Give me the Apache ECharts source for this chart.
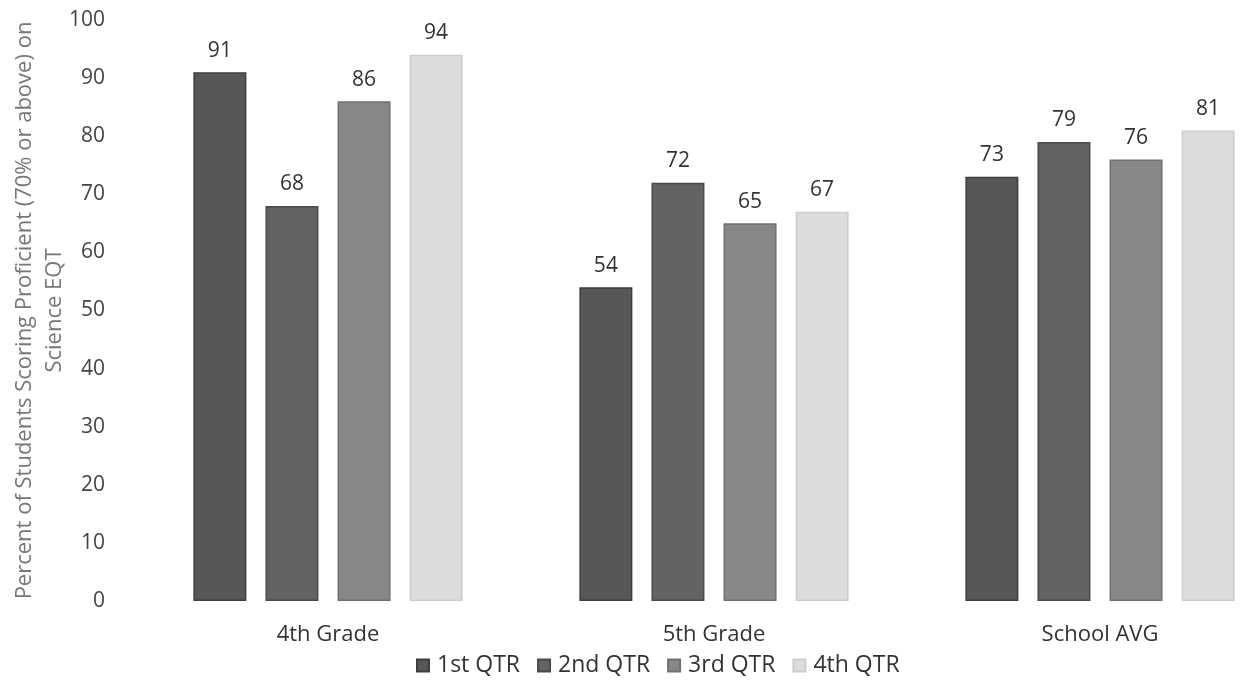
<!DOCTYPE html>
<html><head><meta charset="utf-8">
<script src="https://cdn.jsdelivr.net/npm/echarts@6/dist/echarts.min.js"></script>
<style>html,body{margin:0;padding:0;background:#fff;overflow:hidden;width:1241px;height:694px}#c{width:1300px;height:694px}</style>
</head><body><div id="c"></div>
<script>
const categories = ['4th Grade', '5th Grade', 'School AVG'];
const seriesNames = ['1st QTR', '2nd QTR', '3rd QTR', '4th QTR'];
const q1 = [91, 54, 73];
const q2 = [68, 72, 79];
const q3 = [86, 65, 76];
const q4 = [94, 67, 81];
const yTicks = [0, 10, 20, 30, 40, 50, 60, 70, 80, 90, 100];

const colors = ['#575757', '#636363', '#878787', '#dcdcdc'];
const borders = ['#3e3e3e', '#4a4a4a', '#707070', '#cdcdcd'];
const font = '"Open Sans", Lato, sans-serif';
const values = [q1, q2, q3, q4];

const chart = echarts.init(document.getElementById('c'));
chart.setOption({
  animation: false,
  textStyle: { fontFamily: font },
  grid: { left: 135, width: 1158, top: 20, bottom: 93, outerBoundsMode: 'none', containLabel: false },
  legend: {
    left: 411, top: 649, itemWidth: 12, itemHeight: 12, itemGap: 17,
    icon: 'rect',
    textStyle: { fontSize: 23, color: '#333', fontFamily: font, padding: [0, 0, 0, 3] },
    data: seriesNames
  },
  xAxis: {
    type: 'category', data: categories,
    axisLine: { show: false }, axisTick: { show: false },
    axisLabel: { fontSize: 22, color: '#333', margin: 23, fontFamily: font }
  },
  yAxis: {
    type: 'value', min: yTicks[0], max: yTicks[yTicks.length - 1], interval: 10,
    splitLine: { show: false }, axisLine: { show: false }, axisTick: { show: false },
    axisLabel: { fontSize: 21, color: '#444', margin: 30, fontFamily: font },
    name: 'Percent of Students Scoring Proficient (70% or above) on\nScience EQT',
    nameLocation: 'middle', nameGap: 65, nameRotate: 90, nameMoveOverlap: false,
    nameTextStyle: { fontSize: 22, color: '#777', lineHeight: 30, fontFamily: font }
  },
  series: seriesNames.map((n, i) => ({
    name: n, type: 'bar', data: values[i],
    barWidth: 53, barGap: '36%',
    itemStyle: { color: colors[i], borderColor: borders[i], borderWidth: 1.5 },
    label: { show: true, position: 'top', distance: 11, fontSize: 21, color: '#333', fontFamily: font }
  }))
});
</script></body></html>
